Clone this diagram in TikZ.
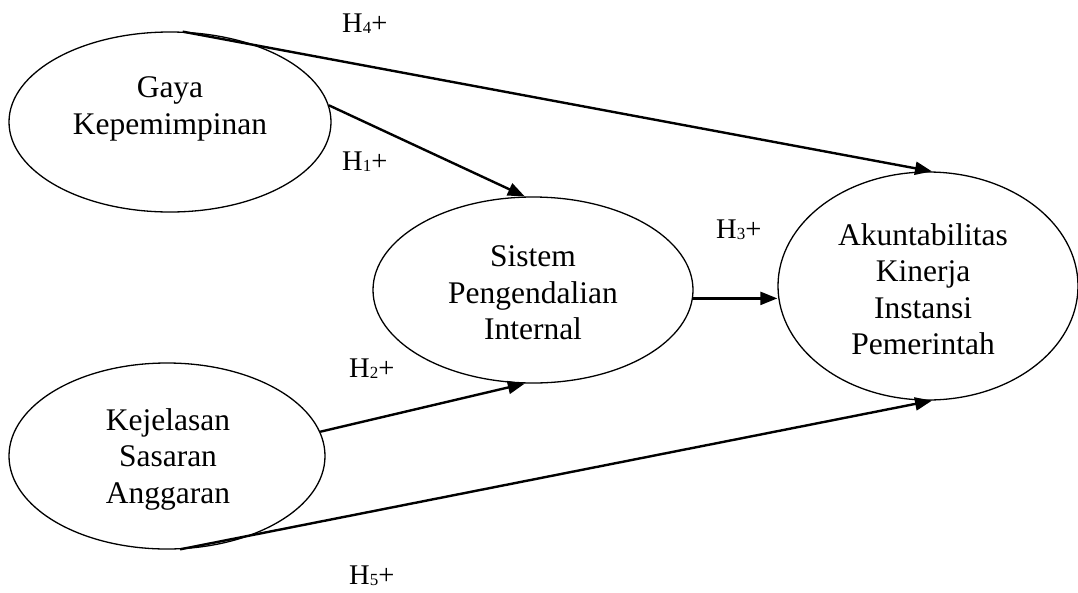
\documentclass[tikz,border=0pt]{standalone}
\usepackage{fontspec}
\setmainfont{Liberation Serif}
\usetikzlibrary{shapes.geometric,arrows.meta}
\tikzset{
  construct/.style={draw, ellipse, line width=1.3pt, inner sep=0pt},
  ctext/.style={inner sep=0pt, align=center, font=\fontsize{31.5}{36.5}\selectfont},
  path/.style={line width=2.4pt, -{Triangle[length=17pt,width=13pt]}},
  hyp/.style={anchor=base west, inner sep=0pt, font=\fontsize{28.5}{30}\selectfont}
}
\newcommand{\hlab}[1]{H\raisebox{-1.5pt}{\fontsize{17}{17}\selectfont #1}+}
\begin{document}
\begin{tikzpicture}[x=1pt,y=-1pt]
\useasboundingbox (0,0) rectangle (1078,592);
\node[construct, minimum width=322pt, minimum height=180pt] (g) at (170,122) {};
\node[construct, minimum width=316pt, minimum height=186pt] (k) at (167,456) {};
\node[construct, minimum width=320pt, minimum height=186pt] (s) at (533,290) {};
\node[construct, minimum width=300pt, minimum height=228pt] (a) at (928,286) {};
\node[ctext] (gt) at (170,109) {Gaya\\Kepemimpinan};
\node[ctext] (kt) at (168,459) {Kejelasan\\Sasaran\\Anggaran};
\node[ctext] (st) at (533,293) {Sistem\\Pengendalian\\Internal};
\node[ctext] (at) at (923,289) {Akuntabilitas\\Kinerja\\Instansi\\Pemerintah};
\draw[path] (g.82) -- (a.88);
\draw[path] (g.6) -- (s.95);
\draw[path] (k.9) -- (s.-95);
\draw[path] (s.-3) -- (s.-3 -| a.west);
\draw[path] (k.-82) -- (a.-88);
\node[hyp] (h4) at (342,32) {\hlab{4}};
\node[hyp] (h1) at (342,170) {\hlab{1}};
\node[hyp] (h3) at (716,238) {\hlab{3}};
\node[hyp] (h2) at (349,377) {\hlab{2}};
\node[hyp] (h5) at (349,584) {\hlab{5}};
\end{tikzpicture}
\end{document}
